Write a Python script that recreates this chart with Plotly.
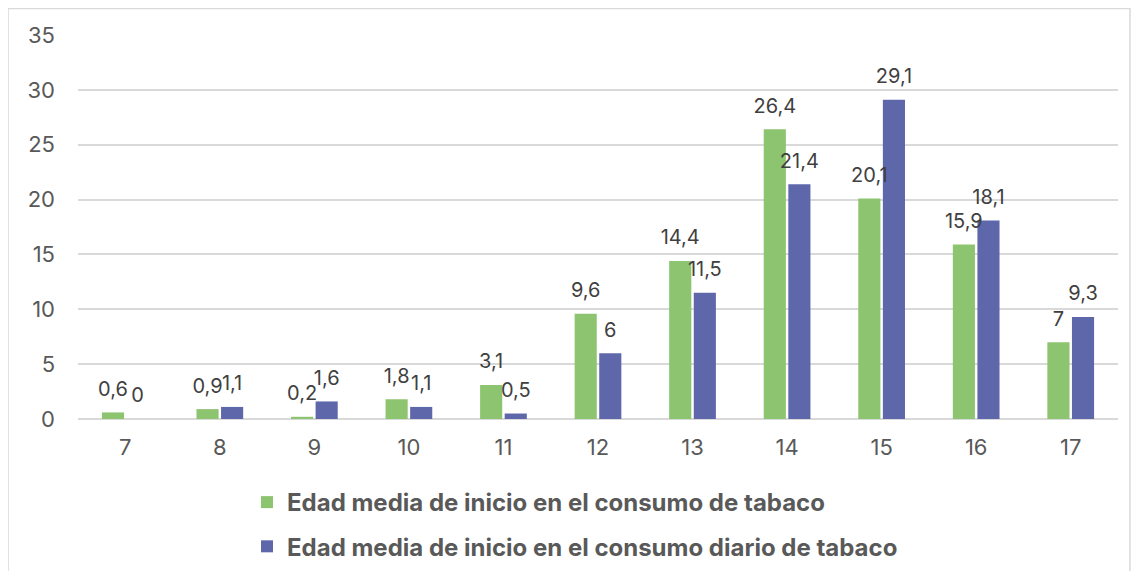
import plotly.graph_objects as go

edades = ["7", "8", "9", "10", "11", "12", "13", "14", "15", "16", "17"]
inicio_consumo = [0.6, 0.9, 0.2, 1.8, 3.1, 9.6, 14.4, 26.4, 20.1, 15.9, 7]
inicio_diario = [0, 1.1, 1.6, 1.1, 0.5, 6, 11.5, 21.4, 29.1, 18.1, 9.3]

nombres = [
    "Edad media de inicio en el consumo de tabaco",
    "Edad media de inicio en el consumo diario de tabaco",
]
colores = ["#8CC46F", "#5F67AB"]
grupos = ["a", "b"]


def etiqueta(v):
    # formato español: coma decimal
    return f"{v:g}".replace(".", ",")


fig = go.Figure()
for nombre, valores, color, grupo in zip(nombres, [inicio_consumo, inicio_diario], colores, grupos):
    fig.add_trace(go.Bar(
        x=edades,
        y=valores,
        name=nombre,
        legendgroup=nombre,
        offsetgroup=grupo,
        marker=dict(color=color, line=dict(width=0)),
        hoverinfo="x+y",
    ))
    # etiquetas de datos (scatter agrupado para separarlas un poco de la barra)
    fig.add_trace(go.Scatter(
        x=edades,
        y=valores,
        mode="markers+text",
        offsetgroup=grupo,
        marker=dict(size=17, opacity=0),
        text=[etiqueta(v) for v in valores],
        textposition="top center",
        textfont=dict(size=20, color="#404040"),
        cliponaxis=False,
        showlegend=False,
        hoverinfo="skip",
    ))

fig.update_layout(
    width=1123,
    height=563,
    barmode="group",
    bargap=0.48,
    bargroupgap=0.1,
    scattermode="group",
    scattergap=0.48,
    margin=dict(l=70, r=13, t=27, b=152),
    plot_bgcolor="white",
    paper_bgcolor="white",
    font=dict(family="Inter, Roboto, sans-serif", size=22, color="#595959"),
    showlegend=True,
    legend=dict(
        x=0.1625, y=0.1616, xanchor="left", yanchor="top",
        yref="container",
        font=dict(size=24, color="#595959", weight="bold"),
        traceorder="grouped",
        tracegroupgap=10,
        itemwidth=30,
    ),
)

fig.update_xaxes(
    type="category",
    showgrid=False,
    showline=False,
    ticks="",
    tickfont=dict(size=22, color="#595959"),
    ticklabelstandoff=13,
)
fig.update_yaxes(
    range=[0, 35],
    dtick=5,
    showgrid=True,
    gridcolor="#D9D9D9",
    gridwidth=1.5,
    zeroline=True,
    zerolinecolor="#D9D9D9",
    zerolinewidth=1.5,
    tickfont=dict(size=22, color="#595959"),
    ticklabelstandoff=22,
)

# marco exterior del gráfico
fig.add_shape(
    type="rect", xref="paper", yref="paper",
    x0=-0.0673, x1=1.0115, y0=-0.6, y1=1.069,
    line=dict(color="#D9D9D9", width=1.5),
    fillcolor="rgba(0,0,0,0)",
    layer="below",
)

fig.write_html("out.html")
